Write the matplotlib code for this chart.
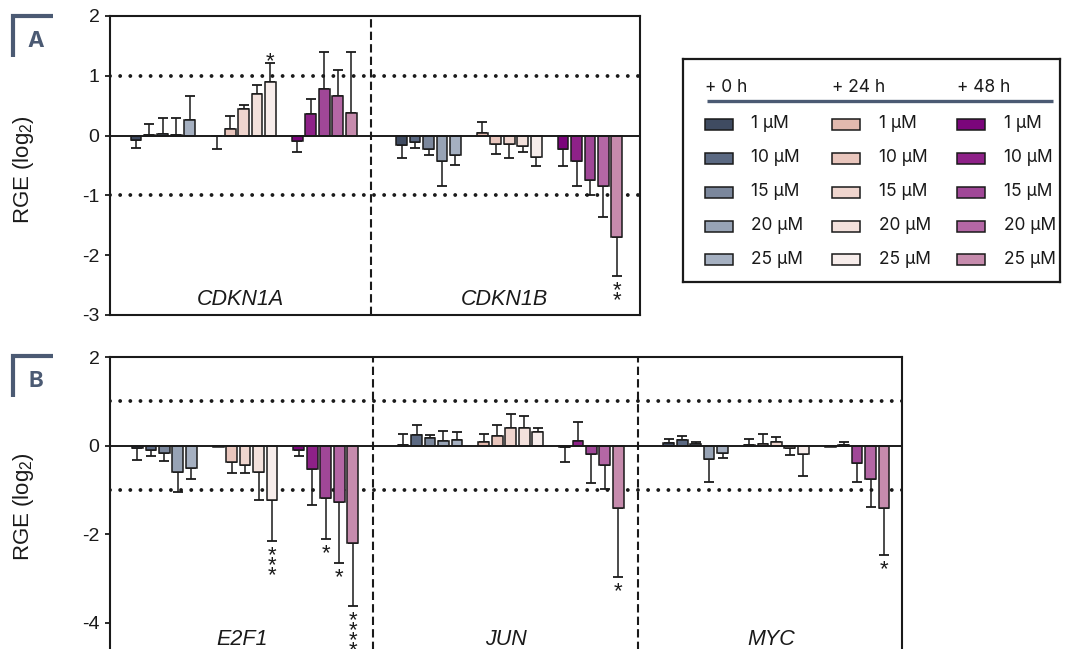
import matplotlib
matplotlib.use("Agg")
import matplotlib.pyplot as plt
from matplotlib.lines import Line2D
from matplotlib.patches import Rectangle
from matplotlib.font_manager import FontProperties, findfont
from matplotlib.ft2font import FT2Font

plt.rcParams["font.family"] = ["Liberation Sans", "DejaVu Sans"]
plt.rcParams["axes.unicode_minus"] = False
plt.rcParams["lines.scale_dashes"] = False
plt.rcParams["mathtext.fontset"] = "custom"
plt.rcParams["mathtext.rm"] = "Liberation Sans"
plt.rcParams["mathtext.it"] = "Liberation Sans:italic"

# ---- data -------------------------------------------------------------
times = ["+ 0 h", "+ 24 h", "+ 48 h"]
doses = ["1 µM", "10 µM", "15 µM", "20 µM", "25 µM"]

colors_0h = ["#3f4b61", "#5b6982", "#7b879c", "#97a3b5", "#a5b0c1"]
colors_24h = ["#e2b9ae", "#e9c6bd", "#efd5ce", "#f3e1dc", "#f7edeb"]
colors_48h = ["#7b057b", "#8e2188", "#a04797", "#b467a5", "#c68bad"]

genes_a = ["CDKN1A", "CDKN1B"]
genes_b = ["E2F1", "JUN", "MYC"]

# mean log2 RGE, order: 0 h (1..25 µM), 24 h (1..25 µM), 48 h (1..25 µM)
cdkn1a_mean = [-0.07, 0.005, 0.03, 0.005, 0.26, -0.01, 0.11, 0.45, 0.70, 0.90, -0.09, 0.36, 0.78, 0.66, 0.38]
cdkn1a_sem = [0.13, 0.19, 0.26, 0.29, 0.40, 0.21, 0.21, 0.07, 0.15, 0.31, 0.19, 0.25, 0.61, 0.44, 1.02]
cdkn1a_sig = ["", "", "", "", "", "", "", "", "", "*", "", "", "", "", ""]

cdkn1b_mean = [-0.15, -0.10, -0.22, -0.43, -0.32, 0.05, -0.14, -0.14, -0.17, -0.35, -0.23, -0.43, -0.74, -0.85, -1.69]
cdkn1b_sem = [0.22, 0.10, 0.10, 0.42, 0.17, 0.18, 0.17, 0.24, 0.10, 0.16, 0.28, 0.42, 0.26, 0.51, 0.66]
cdkn1b_sig = ["", "", "", "", "", "", "", "", "", "", "", "", "", "", "**"]

e2f1_mean = [-0.06, -0.10, -0.17, -0.59, -0.51, -0.04, -0.38, -0.44, -0.59, -1.23, -0.10, -0.53, -1.19, -1.28, -2.20]
e2f1_sem = [0.26, 0.13, 0.17, 0.45, 0.24, 0.0, 0.24, 0.18, 0.63, 0.92, 0.13, 0.81, 0.92, 1.36, 1.41]
e2f1_sig = ["", "", "", "", "", "", "", "", "", "***", "", "", "*", "*", "****"]

jun_mean = [0.005, 0.25, 0.18, 0.10, 0.13, 0.09, 0.21, 0.39, 0.39, 0.30, -0.03, 0.11, -0.19, -0.44, -1.41]
jun_sem = [0.26, 0.21, 0.07, 0.22, 0.18, 0.18, 0.26, 0.32, 0.27, 0.09, 0.35, 0.42, 0.65, 0.55, 1.56]
jun_sig = ["", "", "", "", "", "", "", "", "", "", "", "", "", "", "*"]

myc_mean = [0.05, 0.12, 0.03, -0.30, -0.16, 0.01, 0.04, 0.07, -0.05, -0.20, -0.03, 0.005, -0.39, -0.75, -1.40]
myc_sem = [0.09, 0.09, 0.05, 0.52, 0.12, 0.13, 0.23, 0.12, 0.17, 0.49, 0.0, 0.065, 0.43, 0.64, 1.07]
myc_sig = ["", "", "", "", "", "", "", "", "", "", "", "", "", "", "*"]

yticks_a = [-3, -2, -1, 0, 1, 2]
yticks_b = [-4, -2, 0, 2]

# ---- layout helpers -----------------------------------------------------
W, H = 1065, 649
DPI = 100
GENE_STEP = 19.75   # slots between first bars of neighbouring genes
GROUP_STEP = 6      # slots between time groups
BAR_W = 0.8
INK = "#1a1a1a"
SLATE = "#4b5a73"
STAR_FS = 16
STAR_GAP_PX = 10.0             # distance between stacked asterisks
STAR_OFF_PX = 9.5              # cap-to-first-asterisk distance (below bars)
STAR_UP_PX = 7.5               # cap-to-asterisk distance (above bars)

bar_colors = colors_0h + colors_24h + colors_48h


def px2pt(v):
    return v * 72.0 / DPI


def fig_rect(x0, y0, x1, y1):
    return [x0 / W, 1 - y1 / H, (x1 - x0) / W, (y1 - y0) / H]


fig = plt.figure(figsize=(W / DPI, H / DPI), dpi=DPI)
renderer = fig.canvas.get_renderer()

# ink centre of the asterisk glyph above the baseline, in pixels
_font = FT2Font(findfont(FontProperties(family=["Liberation Sans"])))
_font.set_size(STAR_FS, DPI)
_glyph = _font.load_char(ord("*"))
star_mid_px = (_glyph.horiBearingY - _glyph.height / 2) / 64.0


def _stack_layout(ls):
    """Baseline of the first line and line pitch of a top-aligned star stack."""
    probe = fig.text(0, 0, "*\n*", fontsize=STAR_FS, linespacing=ls, va="top")
    _, lines, _ = probe._get_layout(renderer)
    probe.remove()
    return lines[0][3], lines[0][3] - lines[1][3]


first_base_px, pitch_1 = _stack_layout(1.0)
_, pitch_half = _stack_layout(0.5)
_slope = (pitch_1 - pitch_half) / 0.5
_const = pitch_1 - _slope
STAR_LS = max((STAR_GAP_PX - _const) / _slope, 0.05)


def draw_panel(ax, genes, means, sems, sigs, xlim, ylim, yticks, label_y):
    for g, (gene, mean, sem, sig) in enumerate(zip(genes, means, sems, sigs)):
        xs = [g * GENE_STEP + t * GROUP_STEP + d for t in range(3) for d in range(5)]
        ax.bar(xs, mean, width=BAR_W, color=bar_colors, edgecolor=INK,
               linewidth=1.1, zorder=3)
        lower = [s if m < 0 else 0 for m, s in zip(mean, sem)]
        upper = [s if m >= 0 else 0 for m, s in zip(mean, sem)]
        keep = [i for i, s in enumerate(sem) if s > 0]
        ax.errorbar([xs[i] for i in keep], [mean[i] for i in keep],
                    yerr=[[lower[i] for i in keep], [upper[i] for i in keep]],
                    fmt="none", ecolor=INK, elinewidth=1.1, capsize=3.6,
                    capthick=1.3, zorder=2)
        # significance asterisks, stacked one per line beyond the error cap
        for x, m, s, mark in zip(xs, mean, sem, sig):
            if not mark:
                continue
            if m >= 0:
                end = m + s
                dy_px = STAR_UP_PX - star_mid_px - first_base_px
            else:
                end = m - s
                dy_px = -STAR_OFF_PX - star_mid_px - first_base_px
            ax.annotate("\n".join(mark), xy=(x, end), xytext=(0, px2pt(dy_px)),
                        textcoords="offset points", ha="center", va="top",
                        multialignment="center", linespacing=STAR_LS,
                        fontsize=STAR_FS, color=INK, annotation_clip=False,
                        zorder=5)
        if g < len(genes) - 1:
            ax.axvline(g * GENE_STEP + 17.5, color=INK, lw=1.5,
                       linestyle=(0, (6.0, 3.0)), zorder=1)
        centre_x = ((g * GENE_STEP - 2.0 if g == 0 else g * GENE_STEP - 2.25)
                    + (g * GENE_STEP + 17.5)) / 2
        ax.text(centre_x, label_y, gene, ha="center", va="baseline",
                fontsize=15.5, style="italic", color=INK, zorder=5)
    for lvl in (1, -1):
        ax.axhline(lvl, color=INK, lw=2.8, linestyle=(0, (0.01, 7.3)),
                   dash_capstyle="round", zorder=1)
    ax.axhline(0, color=INK, lw=1.4, zorder=4)
    ax.set_xlim(*xlim)
    ax.set_ylim(*ylim)
    ax.set_xticks([])
    ax.set_yticks(yticks)
    ax.set_yticklabels([str(v) for v in yticks])
    ax.tick_params(axis="y", direction="out", length=3.5, width=1.3,
                   labelsize=14, colors=INK, pad=4)
    for sp in ax.spines.values():
        sp.set_linewidth(1.5)
        sp.set_color(INK)


# panel A
ax_a = fig.add_axes(fig_rect(110, 16, 640, 315))
draw_panel(ax_a, genes_a, [cdkn1a_mean, cdkn1b_mean], [cdkn1a_sem, cdkn1b_sem],
           [cdkn1a_sig, cdkn1b_sig], (-1.93, 37.47), (-3, 2), yticks_a, -2.84)

# panel B (lower part runs past the figure edge)
ax_b = fig.add_axes(fig_rect(110, 357, 902, 357 + 7 * 44.3))
draw_panel(ax_b, genes_b, [e2f1_mean, jun_mean, myc_mean],
           [e2f1_sem, jun_sem, myc_sem], [e2f1_sig, jun_sig, myc_sig],
           (-2.04, 56.84), (-5, 2), yticks_b, -4.5)

# axis titles
for yc in (170, 507):
    fig.text(24 / W, 1 - yc / H, "RGE (log$_{2}$)", rotation=90, ha="center",
             va="center", fontsize=16, color=INK)

# panel letters with corner brackets
for letter, top in (("A", 16), ("B", 356)):
    fig.add_artist(Line2D([13 / W, 13 / W, 53 / W],
                          [1 - (top + 41) / H, 1 - top / H, 1 - top / H],
                          color=SLATE, lw=3.0, solid_joinstyle="miter",
                          solid_capstyle="butt"))
    fig.text(36 / W, 1 - (top + 25) / H, letter, ha="center", va="center",
             fontsize=16, fontweight="bold", color=SLATE,
             family=["Inter", "DejaVu Sans"])

# legend box
ax_l = fig.add_axes(fig_rect(683, 59, 1060, 282))
ax_l.set_xlim(0, 377)
ax_l.set_ylim(223, 0)
ax_l.set_xticks([])
ax_l.set_yticks([])
for sp in ax_l.spines.values():
    sp.set_linewidth(1.6)
    sp.set_color(INK)

col_patch_x = [22, 149, 274]
col_text_x = [68, 196, 321]
row_y = [65, 99, 133, 167, 200]
for c, (head, cols) in enumerate(zip(times, (colors_0h, colors_24h, colors_48h))):
    ax_l.text(col_patch_x[c], 28, head, ha="left", va="center", fontsize=12.5,
              color=INK, family=["Inter", "DejaVu Sans"])
    for r, (dose, col) in enumerate(zip(doses, cols)):
        ax_l.add_patch(Rectangle((col_patch_x[c], row_y[r] - 5.5), 28, 11,
                                 facecolor=col, edgecolor=INK, lw=1.1))
        ax_l.text(col_text_x[c], row_y[r], dose, ha="left", va="center",
                  fontsize=12.5, color=INK, family=["Inter", "DejaVu Sans"])
ax_l.plot([24, 370], [42, 42], color=SLATE, lw=2.4, solid_capstyle="butt")

fig.savefig("out.png", dpi=DPI)
